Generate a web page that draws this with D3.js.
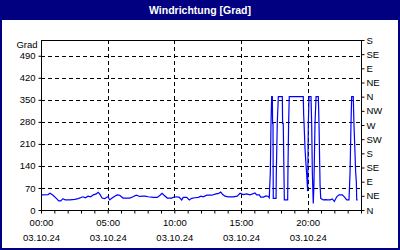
<!DOCTYPE html>
<html>
<head>
<meta charset="utf-8">
<script src="https://cdn.jsdelivr.net/npm/d3@7"></script>
<style>
  body { margin: 0; background: #fff; }
  text { font-family: "Liberation Sans", Arial, sans-serif; }
</style>
</head>
<body>
<div id="wrapper"></div>
<script>
// hours since 00:00 on 03.10.24
const hours = [
  0, 0.53, 0.68, 0.9, 1.15, 1.33, 1.48, 1.65, 1.82, 2.17, 2.53, 2.78, 3.15, 3.32, 3.53, 3.73,
  3.92, 4.15, 4.28, 4.4, 4.58, 4.78, 4.9, 5.03, 5.15, 5.33, 5.53, 5.72, 5.9, 6.15, 6.65, 6.9,
  7.15, 7.4, 7.65, 7.8, 8.03, 8.42, 8.72, 8.93, 9.08, 9.23, 9.47, 9.8, 9.92, 10.18, 10.37, 10.55,
  10.67, 10.93, 11.12, 11.3, 11.55, 11.8, 12.0, 12.17, 12.43, 12.8, 13.13, 13.33, 13.48, 13.63,
  13.8, 14.05, 14.42, 14.72, 14.93, 15.17, 15.43, 15.68, 16.05, 16.18, 16.37, 16.48, 16.68, 16.88,
  17.05, 17.12, 17.2, 17.25, 17.3, 17.35, 17.37, 17.4, 17.42, 17.63, 17.65, 17.72, 17.8, 18.1,
  18.12, 18.17, 18.22, 18.25, 18.5, 18.52, 18.57, 18.62, 19.67, 19.7, 19.73, 19.8, 19.85, 19.93,
  20.0, 20.05, 20.1, 20.25, 20.3, 20.35, 20.42, 20.47, 20.55, 20.63, 20.8, 20.85, 20.93, 20.98,
  21.17, 21.35, 21.5, 21.68, 21.85, 22.0, 22.18, 22.35, 22.6, 22.75, 22.93, 23.1, 23.18, 23.25,
  23.3, 23.42, 23.47, 23.55, 23.6, 23.65, 23.68, 23.75
]
const direction = [
  48, 49, 53, 47, 37, 29, 29, 36, 32, 32, 34, 36, 42, 39, 44, 42,
  48, 51, 56, 51, 38, 36, 40, 42, 32, 38, 44, 48, 47, 38, 38, 42,
  47, 43, 44, 44, 42, 40, 40, 47, 53, 47, 38, 38, 40, 42, 40, 32,
  40, 40, 32, 37, 39, 40, 44, 42, 47, 47, 51, 53, 57, 49,
  44, 42, 42, 44, 53, 49, 51, 48, 54, 48, 48, 41, 41, 45,
  43, 39, 120, 275, 360, 360, 275, 275, 37, 37, 120, 275, 360, 360,
  275, 275, 120, 32, 32, 120, 275, 360, 360, 302, 275, 196, 160, 111,
  60, 275, 360, 360, 275, 120, 21, 80, 275, 360, 360, 275, 80, 37,
  32, 33, 32, 32, 35, 27, 42, 48, 48, 42, 32, 32, 120, 275,
  360, 360, 275, 180, 120, 90, 32, 32
]

const title = "Windrichtung [Grad]"
const unitLabel = "Grad"
const dateLabel = "03.10.24"
const leftTicks = [0, 70, 140, 210, 280, 350, 420, 490]
const compassTicks = [0, 45, 90, 135, 180, 225, 270, 315, 360, 405, 450, 495, 540]
const compassLabels = ["N", "NE", "E", "SE", "S", "SW", "W", "NW", "N", "NE", "E", "SE", "S"]
const majorHours = [0, 5, 10, 15, 20]
const minorHours = d3.range(0, 25)

const dataset = hours.map((h, i) => ({ h: h, v: direction[i] }))

const dims = {
    width: 400,
    height: 250,
    margin: { top: 40, right: 39, bottom: 40, left: 41 }
}
dims.boundedWidth = dims.width - dims.margin.left - dims.margin.right
dims.boundedHeight = dims.height - dims.margin.top - dims.margin.bottom

const svg = d3.select("#wrapper")
    .append("svg")
    .attr("width", dims.width)
    .attr("height", dims.height)

// frame + title bar
svg.append("rect")
    .attr("x", 1).attr("y", 1)
    .attr("width", dims.width - 2).attr("height", dims.height - 2)
    .attr("fill", "#fff")
    .attr("stroke", "#000080")
    .attr("stroke-width", 2)
svg.append("rect")
    .attr("width", dims.width).attr("height", 20)
    .attr("fill", "#000080")
svg.append("text")
    .attr("x", dims.width / 2).attr("y", 14)
    .attr("text-anchor", "middle")
    .attr("fill", "#fff")
    .style("font-weight", "bold")
    .style("font-size", "10.5px")
    .text(title)

const bounds = svg.append("g")
    .attr("transform", `translate(${dims.margin.left},${dims.margin.top})`)

const xScale = d3.scaleLinear()
    .domain([0, 24])
    .range([0, dims.boundedWidth])

const yScale = d3.scaleLinear()
    .domain([0, 540])
    .range([dims.boundedHeight, 0])

// grid
bounds.append("g")
    .selectAll("line")
    .data(leftTicks.filter(d => d > 0))
    .join("line")
    .attr("x1", 0).attr("x2", dims.boundedWidth)
    .attr("y1", d => Math.round(yScale(d)) + 0.5)
    .attr("y2", d => Math.round(yScale(d)) + 0.5)
    .attr("stroke", "#000")
    .attr("stroke-dasharray", "4,3")

bounds.append("g")
    .selectAll("line")
    .data(majorHours.filter(d => d > 0))
    .join("line")
    .attr("x1", d => Math.round(xScale(d)) + 0.5)
    .attr("x2", d => Math.round(xScale(d)) + 0.5)
    .attr("y1", 0).attr("y2", dims.boundedHeight)
    .attr("stroke", "#000")
    .attr("stroke-dasharray", "4,3")

// data line
const lineGenerator = d3.line()
    .x(d => xScale(d.h))
    .y(d => yScale(d.v))

bounds.append("path")
    .datum(dataset)
    .attr("d", lineGenerator)
    .attr("fill", "none")
    .attr("stroke", "#0000ff")
    .attr("stroke-width", 1.2)

// plot frame
bounds.append("rect")
    .attr("x", 0.5).attr("y", 0.5)
    .attr("width", dims.boundedWidth).attr("height", dims.boundedHeight)
    .attr("fill", "none")
    .attr("stroke", "#000")

// axes
const yAxisGenerator = d3.axisLeft(yScale)
    .tickValues(leftTicks)
    .tickSize(3)
    .tickPadding(3)

const yAxis = bounds.append("g")
    .attr("transform", "translate(0.5,0)")
    .call(yAxisGenerator)
yAxis.select(".domain").remove()

yAxis.append("text")
    .attr("x", -4)
    .attr("y", 8)
    .attr("text-anchor", "end")
    .attr("fill", "#000")
    .text(unitLabel)

const rightAxisGenerator = d3.axisRight(yScale)
    .tickValues(compassTicks)
    .tickFormat((d, i) => compassLabels[i])
    .tickSize(3)
    .tickPadding(2)

const rightAxis = bounds.append("g")
    .attr("transform", `translate(${dims.boundedWidth + 0.5},0)`)
    .call(rightAxisGenerator)
rightAxis.select(".domain").remove()

const xMinorGenerator = d3.axisBottom(xScale)
    .tickValues(minorHours)
    .tickFormat("")
    .tickSize(3)

const xMinor = bounds.append("g")
    .attr("transform", `translate(0,${dims.boundedHeight + 0.5})`)
    .call(xMinorGenerator)
xMinor.select(".domain").remove()

const xAxisGenerator = d3.axisBottom(xScale)
    .tickValues(majorHours)
    .tickFormat(d => String(d).padStart(2, "0") + ":00")
    .tickSize(0)
    .tickPadding(9)

const xAxis = bounds.append("g")
    .attr("transform", `translate(0,${dims.boundedHeight + 0.5})`)
    .call(xAxisGenerator)
xAxis.select(".domain").remove()

xAxis.selectAll(".tick")
    .append("text")
    .attr("y", 24)
    .attr("dy", "0.71em")
    .attr("fill", "#000")
    .text(dateLabel)

bounds.selectAll(".tick text, g > text")
    .style("font-size", "9.5px")
    .style("font-family", "'Liberation Sans', Arial, sans-serif")
</script>
</body>
</html>
